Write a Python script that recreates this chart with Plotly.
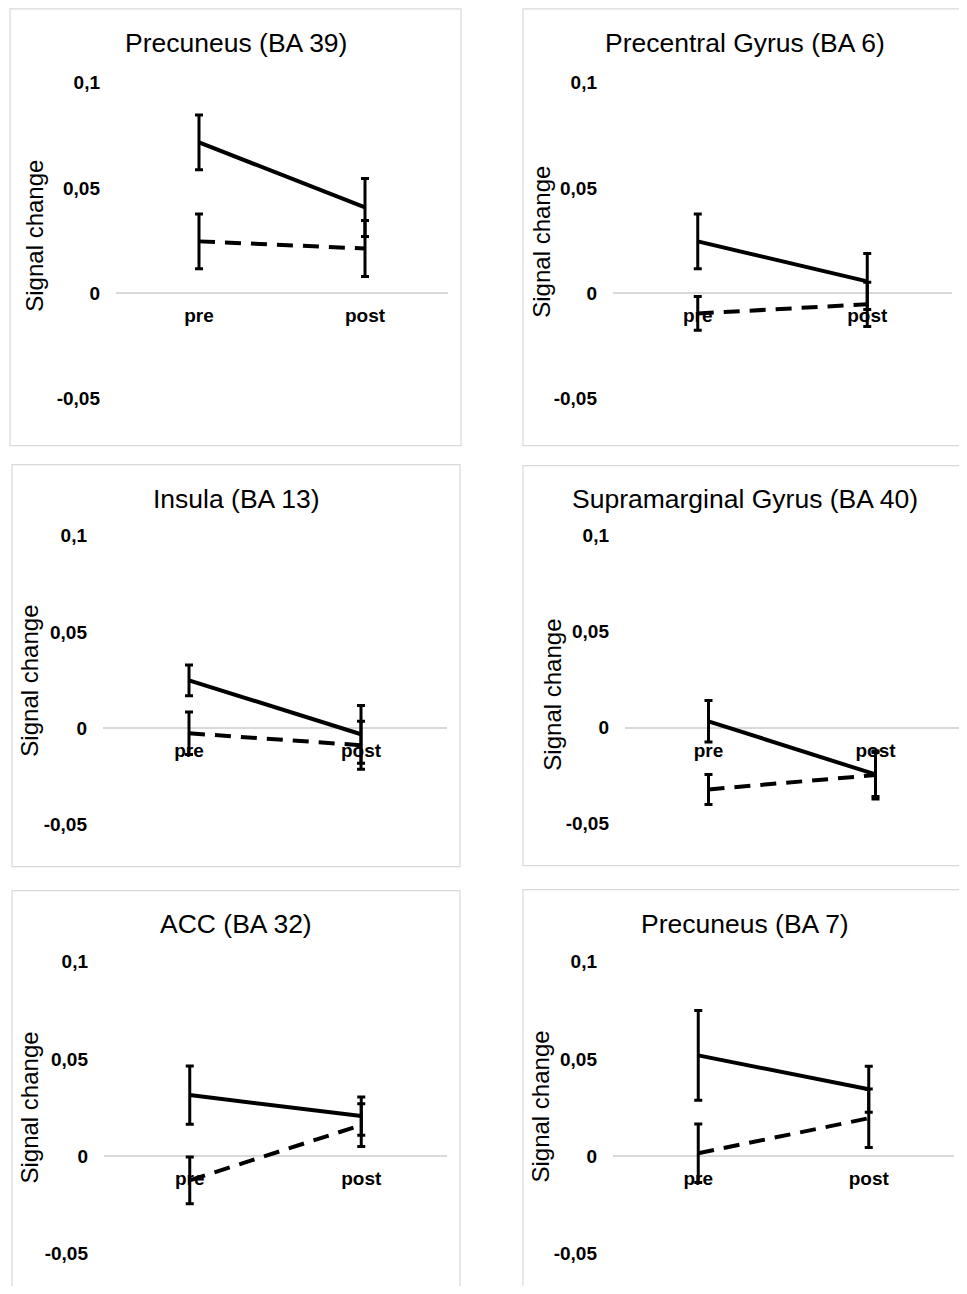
import plotly.graph_objects as go

# ---------------- data ----------------
categories = ["pre", "post"]
titles = [
    "Precuneus (BA 39)",
    "Precentral Gyrus (BA 6)",
    "Insula (BA 13)",
    "Supramarginal Gyrus (BA 40)",
    "ACC (BA 32)",
    "Precuneus (BA 7)",
]
# solid line series (mean, error) per panel
solid_means = [
    [0.0717, 0.0408],
    [0.0247, 0.0057],
    [0.0249, -0.0031],
    [0.0033, -0.0244],
    [0.0314, 0.0206],
    [0.0518, 0.0344],
]
solid_err = [
    [0.013, 0.0138],
    [0.013, 0.0133],
    [0.008, 0.015],
    [0.0108, 0.0115],
    [0.015, 0.0098],
    [0.023, 0.0118],
]
# dashed line series (mean, error) per panel
dashed_means = [
    [0.0247, 0.0213],
    [-0.0095, -0.0052],
    [-0.0026, -0.0088],
    [-0.0322, -0.0247],
    [-0.0124, 0.016],
    [0.0015, 0.0195],
]
dashed_err = [
    [0.013, 0.0133],
    [0.008, 0.0105],
    [0.011, 0.0125],
    [0.0078, 0.0125],
    [0.012, 0.011],
    [0.015, 0.015],
]
tick_vals = [-0.05, 0, 0.05, 0.1]
tick_text = ["-0,05", "0", "0,05", "0,1"]
y_title = "Signal change"

# ---------------- layout geometry (screen pixels) ----------------
PAGE_MARGIN = 8           # default body margin of the html page
W, H = 967 - 2 * PAGE_MARGIN, 1294 - 2 * PAGE_MARGIN
Y_SCALE, Y_OFF = 0.9838, 17.2   # observed vertical mapping of the snapshot
boxes = [  # x0, y0, x1, y1 of panel frames
    (10, 8, 461, 445),
    (523, 8, 966, 445),
    (12, 464, 460, 866),
    (523, 465, 966, 865),
    (12, 890, 460, 1330),
    (523, 889, 966, 1330),
]
plots = [  # x0, ytop(0.1), x1, ybottom(-0.05)
    (116, 82, 448, 398),
    (613, 82, 952, 398),
    (103, 535, 447, 824),
    (625, 535, 967, 823),
    (104, 961, 447, 1253),
    (613, 961, 954, 1253),
]
title_pos = [(236, 42), (745, 42), (236, 498), (745, 498), (236, 923), (745, 923)]
ytitle_pos = [(35, 235), (542, 241), (30, 680), (553, 694), (30, 1107), (541, 1106)]

Y_MIN, Y_MAX = -0.05, 0.1
FONT = "Liberation Sans, Arial, sans-serif"

def px(x):
    return (x - PAGE_MARGIN) / W

def py(y):
    return 1 - ((y - Y_OFF) / Y_SCALE) / H

fig = go.Figure()
layout = dict(
    width=W, height=H,
    margin=dict(l=0, r=0, t=0, b=0),
    paper_bgcolor="white", plot_bgcolor="white",
    showlegend=False,
    shapes=[], annotations=[],
)

for i in range(6):
    n = "" if i == 0 else str(i + 1)
    xa, ya = "x" + n, "y" + n
    x0, yt, x1, yb = plots[i]
    ydom = [max(0.0, py(yb)), min(1.0, py(yt))]
    zero_pos = ydom[0] + (0 - Y_MIN) / (Y_MAX - Y_MIN) * (ydom[1] - ydom[0])

    fig.add_trace(go.Scatter(
        x=categories, y=solid_means[i], mode="lines",
        line=dict(color="black", width=4),
        error_y=dict(type="data", array=solid_err[i], visible=True,
                     color="black", thickness=3, width=4),
        xaxis=xa, yaxis=ya, hoverinfo="skip",
    ))
    fig.add_trace(go.Scatter(
        x=categories, y=dashed_means[i], mode="lines",
        line=dict(color="black", width=4, dash="16px,10px"),
        error_y=dict(type="data", array=dashed_err[i], visible=True,
                     color="black", thickness=3, width=4),
        xaxis=xa, yaxis=ya, hoverinfo="skip",
    ))

    layout["xaxis" + n] = dict(
        domain=[max(0.0, px(x0)), min(1.0, px(x1))], anchor="free", position=zero_pos,
        type="category", range=[-0.5, 1.5],
        showgrid=False, zeroline=False, showline=False, ticks="",
        tickfont=dict(family=FONT, size=19, color="black"),
        tickvals=categories, ticktext=["<b>%s</b>" % c for c in categories],
        ticklabelstandoff=9,
        fixedrange=True,
    )
    layout["yaxis" + n] = dict(
        domain=ydom, anchor=xa, range=[Y_MIN, Y_MAX],
        showgrid=False, zeroline=True, zerolinecolor="#d9d9d9", zerolinewidth=1.5,
        showline=False, ticks="",
        tickvals=tick_vals, ticktext=["<b>%s</b>" % t for t in tick_text],
        tickfont=dict(family=FONT, size=19, color="black"),
        ticklabelstandoff=15,
        fixedrange=True,
    )

    bx0, by0, bx1, by1 = boxes[i]
    layout["shapes"].append(dict(
        type="rect", xref="paper", yref="paper",
        x0=px(bx0), x1=px(bx1), y0=py(by1), y1=py(by0),
        line=dict(color="#d9d9d9", width=1.2), fillcolor="rgba(0,0,0,0)", layer="below",
    ))
    tx, ty = title_pos[i]
    layout["annotations"].append(dict(
        text=titles[i], xref="paper", yref="paper", x=px(tx), y=py(ty),
        xanchor="center", yanchor="middle", showarrow=False,
        font=dict(family=FONT, size=26.5, color="black"),
    ))
    ax, ay = ytitle_pos[i]
    layout["annotations"].append(dict(
        text=y_title, xref="paper", yref="paper", x=px(ax), y=py(ay),
        xanchor="center", yanchor="middle", showarrow=False, textangle=-90,
        font=dict(family=FONT, size=24, color="black"),
    ))

fig.update_layout(**layout)
fig.write_html("out.html")
